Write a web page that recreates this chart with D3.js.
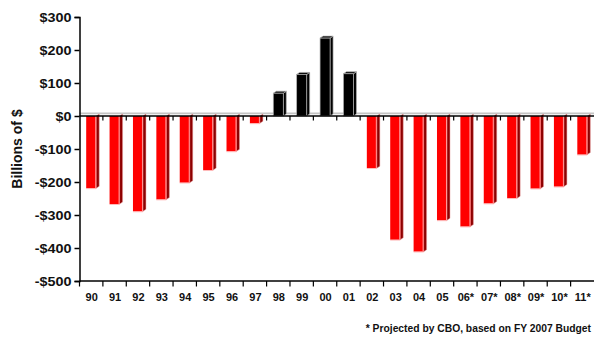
<!DOCTYPE html>
<html>
<head>
<meta charset="utf-8">
<script src="https://cdn.jsdelivr.net/npm/d3@7/dist/d3.min.js"></script>
<style>
  html, body { margin: 0; padding: 0; background: #fff; }
  svg { display: block; font-family: "Liberation Sans", Arial, sans-serif; }
</style>
</head>
<body>
<svg id="chart" width="595" height="341"></svg>
<script>
// Federal budget surplus / deficit by fiscal year, billions of dollars
const years = ["90","91","92","93","94","95","96","97","98","99","00","01",
               "02","03","04","05","06*","07*","08*","09*","10*","11*"];
const balances = [-219,-267,-289,-253,-202,-164,-107,-22,69,126,236,128,
                  -158,-375,-411,-316,-335,-265,-249,-220,-214,-117];
const yTicks = [300,200,100,0,-100,-200,-300,-400,-500];
const yTitle = "Billions of $";
const footnote = "* Projected by CBO, based on FY 2007 Budget";

const svg = d3.select("#chart");
const plotLeft = 79.5, plotRight = 594, plotTop = 17, plotBottom = 281;

const x = d3.scaleBand().domain(years).range([plotLeft, plotRight]).padding(0);
const y = d3.scaleLinear().domain([-500, 300]).range([plotBottom, plotTop]);
const y0 = y(0);
const bw = x.bandwidth();
const barW = 10, dx = 3, dy = 2;

// Floor line at zero with a faint back edge
svg.append("line")
  .attr("x1", plotLeft).attr("x2", plotRight)
  .attr("y1", y0 - 2.6).attr("y2", y0 - 2.6)
  .attr("stroke", "#c4c4c4").attr("stroke-width", 1.6);

const bars = svg.append("g");
years.forEach((yr, i) => {
  const v = balances[i];
  const x0 = x(yr) + (bw - barW) / 2;
  const x1 = x0 + barW;
  const yv = y(v);
  const pos = v >= 0;
  const front = pos ? "#000" : "#ff0000";
  const side = pos ? "#000" : "#8e0000";
  const edge = pos ? "#b0b0b0" : "#ff9a9a";
  const g = bars.append("g");
  if (pos) {
    g.append("polygon")
      .attr("points", [[x1, yv], [x1 + dx, yv - dy], [x1 + dx, y0 - dy], [x1, y0]].join(" "))
      .attr("fill", side).attr("stroke", edge).attr("stroke-width", 0.7);
    g.append("polygon")
      .attr("points", [[x0, yv], [x0 + dx, yv - dy], [x1 + dx, yv - dy], [x1, yv]].join(" "))
      .attr("fill", "#000").attr("stroke", edge).attr("stroke-width", 0.7);
    g.append("rect")
      .attr("x", x0).attr("y", yv).attr("width", barW).attr("height", y0 - yv)
      .attr("fill", front).attr("stroke", edge).attr("stroke-width", 0.7);
  } else {
    g.append("polygon")
      .attr("points", [[x1, y0], [x1 + dx, y0 - dy], [x1 + dx, yv - dy], [x1, yv]].join(" "))
      .attr("fill", side).attr("stroke", "#e8a0a0").attr("stroke-width", 0.5);
    g.append("rect")
      .attr("x", x0).attr("y", y0).attr("width", barW).attr("height", yv - y0)
      .attr("fill", front);
    g.append("line")
      .attr("x1", x1 - 0.5).attr("x2", x1 - 0.5).attr("y1", y0).attr("y2", yv)
      .attr("stroke", edge).attr("stroke-width", 1);
    g.append("line")
      .attr("x1", x0).attr("x2", x1).attr("y1", yv + 0.4).attr("y2", yv + 0.4)
      .attr("stroke", "#ffb0b0").attr("stroke-width", 0.8);
  }
});

// Zero line with short ticks between categories
svg.append("line")
  .attr("x1", plotLeft).attr("x2", plotRight)
  .attr("y1", y0).attr("y2", y0)
  .attr("stroke", "#000").attr("stroke-width", 1.3);
svg.append("g").selectAll("line")
  .data(years.slice(1))
  .join("line")
  .attr("x1", d => x(d)).attr("x2", d => x(d))
  .attr("y1", y0).attr("y2", y0 + 4.5)
  .attr("stroke", "#000").attr("stroke-width", 1.2);

// Y axis
const yAxis = svg.append("g")
  .attr("transform", `translate(${plotLeft},0)`)
  .call(d3.axisLeft(y).tickValues(yTicks).tickSize(5).tickPadding(3)
    .tickFormat(d => (d < 0 ? "-$" : "$") + Math.abs(d)));
yAxis.select(".domain").attr("stroke", "#000").attr("stroke-width", 1.5);
yAxis.selectAll(".tick line").attr("stroke", "#000").attr("stroke-width", 1.5);
yAxis.selectAll(".tick text")
  .attr("font-size", 12.5).attr("font-weight", "bold").attr("fill", "#111")
  .attr("font-family", "'Liberation Sans', Arial, sans-serif")
  .attr("dy", "0.36em")
  .each(function() {
    const t = d3.select(this);
    const xx = +t.attr("x");
    t.attr("x", null).attr("transform", `translate(${xx},0) scale(1.15,1)`);
  });

// X axis along the bottom
const xAxisG = svg.append("g").attr("transform", `translate(0,${plotBottom})`);
xAxisG.append("line")
  .attr("x1", plotLeft).attr("x2", plotRight).attr("y1", 0).attr("y2", 0)
  .attr("stroke", "#000").attr("stroke-width", 1.5);
xAxisG.selectAll("line.tk")
  .data(years)
  .join("line").attr("class", "tk")
  .attr("x1", d => x(d)).attr("x2", d => x(d))
  .attr("y1", 0).attr("y2", 5.5)
  .attr("stroke", "#000").attr("stroke-width", 1.2);
xAxisG.selectAll("text")
  .data(years)
  .join("text")
  .attr("transform", d => `translate(${x(d) + bw / 2 + 0.5},19.5) scale(1.1,1)`)
  .attr("text-anchor", "middle")
  .attr("font-size", 10).attr("font-weight", "bold").attr("fill", "#111")
  .text(d => d);

// Axis title
svg.append("text")
  .attr("transform", `translate(22,${(108 + 190) / 2}) rotate(-90)`)
  .attr("text-anchor", "middle")
  .attr("font-size", 14).attr("font-weight", "bold").attr("fill", "#111")
  .text(yTitle);

// Footnote
svg.append("text")
  .attr("x", 591).attr("y", 332)
  .attr("text-anchor", "end")
  .attr("font-size", 10.3).attr("font-weight", "bold").attr("fill", "#111")
  .text(footnote);
</script>
</body>
</html>
